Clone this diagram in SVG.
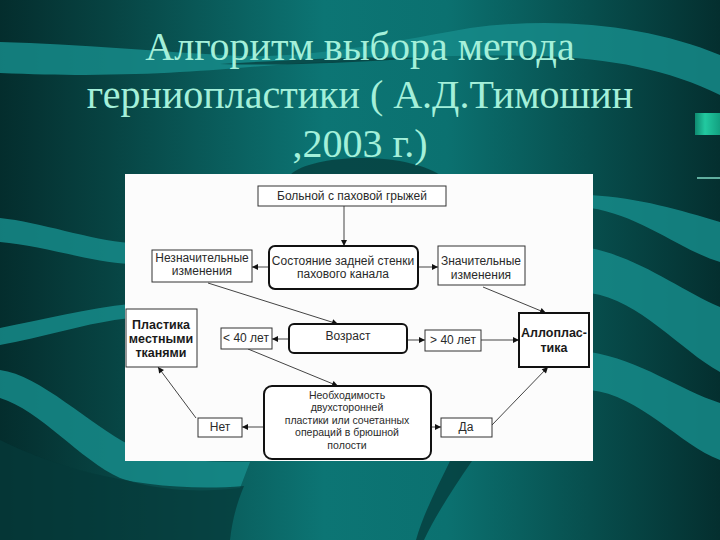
<svg xmlns="http://www.w3.org/2000/svg" width="720" height="540" viewBox="0 0 720 540">
<defs>
<linearGradient id="bg" x1="0" y1="0" x2="1" y2="0">
<stop offset="0" stop-color="#042d2d"/>
<stop offset="0.15" stop-color="#074342"/>
<stop offset="0.45" stop-color="#0c7574"/>
<stop offset="0.62" stop-color="#0b7170"/>
<stop offset="0.82" stop-color="#074e4d"/>
<stop offset="1" stop-color="#042f2f"/>
</linearGradient>
<linearGradient id="gem" x1="0" y1="0" x2="1" y2="0">
<stop offset="0" stop-color="#0f8a70"/>
<stop offset="0.4" stop-color="#22c9a0"/>
<stop offset="1" stop-color="#12a080"/>
</linearGradient>
<marker id="ah" viewBox="0 0 10 10" refX="10" refY="5" markerWidth="7" markerHeight="6" orient="auto" markerUnits="userSpaceOnUse">
<path d="M0,0 L10,5 L0,10 Z" fill="#111"/>
</marker>
<style>
.band{fill:#168b89;opacity:0.85}
.dark{fill:#053a39;opacity:0.75}
.title{font-family:"Liberation Serif","Times New Roman",serif;font-size:40px;fill:#a4f0da;text-anchor:middle}
.box{fill:#fff;stroke:#333;stroke-width:1}
.rbox{fill:#fff;stroke:#111;stroke-width:2}
.tbox{fill:#fff;stroke:#111;stroke-width:2}
.t{font-family:"Liberation Sans",Arial,sans-serif;font-size:12px;fill:#2a2a2a;text-anchor:middle}
.s{font-family:"Liberation Sans",Arial,sans-serif;font-size:10.5px;fill:#2a2a2a;text-anchor:middle}
.b{font-family:"Liberation Sans",Arial,sans-serif;font-size:12.5px;font-weight:bold;fill:#1a1a1a;text-anchor:middle}
.c{stroke:#444;stroke-width:1;fill:none;marker-end:url(#ah)}
</style>
</defs>

<g id="background">
<rect x="0" y="0" width="720" height="540" fill="url(#bg)"/>
<path class="band" d="M0,42 C80,44 160,52 240,56 C320,58 400,40 470,28 C560,16 650,26 720,55 L720,95 C670,70 610,58 540,56 C460,54 400,58 320,62 C240,66 160,80 0,73 Z"/>
<path class="dark" d="M220,64 C290,60 360,56 420,58 C360,62 290,66 220,64 Z"/>
<path class="band" d="M0,218 C40,222 90,240 130,243 L130,264 C90,262 40,245 0,242 Z"/>
<path class="band" d="M0,328 C40,320 90,308 130,304 L130,318 C90,322 40,338 0,345 Z"/>
<path class="band" d="M0,370 C40,375 90,425 130,445 C170,462 210,462 250,462 L240,488 C180,495 140,485 120,478 C80,460 40,410 0,398 Z"/>
<path class="band" d="M590,195 C640,198 680,210 720,222 L720,262 C680,250 640,215 590,208 Z"/>
<path class="band" d="M590,248 C640,258 680,290 720,307 L720,372 C680,350 640,300 590,293 Z"/>
<path class="band" d="M590,352 C640,360 680,390 720,403 L720,460 C680,445 640,395 590,390 Z"/>
<path class="dark" d="M0,440 C60,470 150,494 244,486 C236,505 232,522 230,540 L0,540 Z" opacity="0.5"/>
<path class="dark" d="M450,461 L472,461 C452,490 436,515 424,540 L416,540 C424,512 438,486 450,461 Z"/>
<path class="dark" d="M290,175 C310,155 400,150 440,175 Z"/>
<rect x="695" y="113" width="25" height="22" fill="url(#gem)"/>
<line x1="697" y1="178" x2="720" y2="178" stroke="#7fd8c4" stroke-width="1.5"/>
</g>

<g id="title">
<text class="title" x="360" y="60">Алгоритм выбора метода</text>
<text class="title" x="360" y="108">герниопластики ( А.Д.Тимошин</text>
<text class="title" x="360" y="157">,2003 г.)</text>
</g>

<rect id="panel" x="125" y="174" width="468" height="287" fill="#fcfcfc"/>

<g id="connectors">
<line class="c" x1="344" y1="206" x2="344" y2="246"/>
<line class="c" x1="269" y1="267" x2="252" y2="267"/>
<line class="c" x1="418" y1="267" x2="438" y2="267"/>
<line class="c" x1="208" y1="283" x2="338" y2="324"/>
<line class="c" x1="483" y1="287" x2="546" y2="313"/>
<line class="c" x1="289" y1="339" x2="272" y2="339"/>
<line class="c" x1="407" y1="340" x2="425" y2="340"/>
<line class="c" x1="481" y1="340" x2="519" y2="340"/>
<line class="c" x1="248" y1="349" x2="338" y2="386"/>
<line class="c" x1="264" y1="427" x2="242" y2="427"/>
<line class="c" x1="431" y1="427" x2="441" y2="427"/>
<line class="c" x1="196" y1="418" x2="158" y2="367"/>
<line class="c" x1="492" y1="425" x2="548" y2="367"/>
</g>

<g id="n1">
<rect class="box" x="258" y="186" width="188" height="20"/>
<text class="t" x="352" y="200">Больной с паховой грыжей</text>
</g>
<g id="n2">
<rect class="rbox" x="269" y="246" width="149" height="43" rx="6"/>
<text class="t" x="343" y="265">Состояние задней стенки</text>
<text class="t" x="343" y="278">пахового канала</text>
</g>
<g id="n3">
<rect class="box" x="152" y="250" width="100" height="32"/>
<text class="t" x="202" y="262">Незначительные</text>
<text class="t" x="202" y="275">изменения</text>
</g>
<g id="n4">
<rect class="box" x="438" y="246" width="87" height="39"/>
<text class="t" x="481" y="265">Значительные</text>
<text class="t" x="481" y="279">изменения</text>
</g>
<g id="n5">
<rect class="box" x="126" y="309" width="71" height="58"/>
<text class="b" x="161" y="329">Пластика</text>
<text class="b" x="161" y="343">местными</text>
<text class="b" x="161" y="357">тканями</text>
</g>
<g id="n6">
<rect class="box" x="221" y="328" width="51" height="21"/>
<text class="t" x="246" y="342">&lt; 40 лет</text>
</g>
<g id="n7">
<rect class="rbox" x="289" y="324" width="118" height="29" rx="5"/>
<text class="t" x="348" y="340">Возраст</text>
</g>
<g id="n8">
<rect class="box" x="425" y="330" width="56" height="21"/>
<text class="t" x="453" y="344">&gt; 40 лет</text>
</g>
<g id="n9">
<rect class="tbox" x="519" y="313" width="70" height="54"/>
<text class="b" x="554" y="337">Аллоплас-</text>
<text class="b" x="554" y="352">тика</text>
</g>
<g id="n10">
<rect class="rbox" x="264" y="386" width="167" height="73" rx="8"/>
<text class="s" x="347" y="398.5">Необходимость</text>
<text class="s" x="347" y="411">двухсторонней</text>
<text class="s" x="347" y="423.5">пластики или сочетанных</text>
<text class="s" x="347" y="436">операций в брюшной</text>
<text class="s" x="347" y="448.5">полости</text>
</g>
<g id="n11">
<rect class="box" x="198" y="418" width="44" height="19"/>
<text class="t" x="220" y="431">Нет</text>
</g>
<g id="n12">
<rect class="box" x="441" y="418" width="51" height="19"/>
<text class="t" x="466" y="431">Да</text>
</g>
</svg>
